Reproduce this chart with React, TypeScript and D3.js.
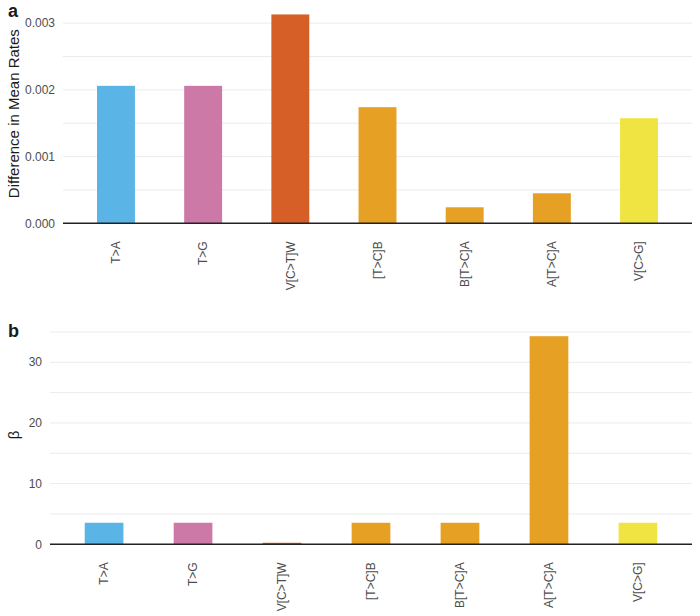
import React from "react";
import * as d3 from "d3";

const categories = ["T>A", "T>G", "V[C>T]W", "[T>C]B", "B[T>C]A", "A[T>C]A", "V[C>G]"];
const colors = ["#5AB4E6", "#CC79A7", "#D65F27", "#E6A024", "#E6A024", "#E6A024", "#F0E442"];
const diffRates = [0.00206, 0.00206, 0.00313, 0.00174, 0.00024, 0.00045, 0.001575];
const beta = [3.55, 3.55, 0.25, 3.55, 3.55, 34.3, 3.55];
const ticksA = [0, 0.001, 0.002, 0.003];
const minorA = [0.0005, 0.0015, 0.0025];
const ticksB = [0, 10, 20, 30];
const minorB = [5, 15, 25, 35];

const FONT = "'Liberation Sans', Arial, Helvetica, sans-serif";

type PanelProps = {
  label: string;
  title: string;
  values: number[];
  ticks: number[];
  minor: number[];
  fmt: (v: number) => string;
  left: number;
  right: number;
  top: number;
  bottom: number;
  labelY: number;
};

function Panel(p: PanelProps) {
  const max = d3.max(p.values) as number;
  const y = d3.scaleLinear().domain([0, max * 1.05]).range([p.bottom, p.top]);
  const x = d3.scaleBand<string>().domain(categories).range([p.left, p.right]).paddingInner(0.565).paddingOuter(0.39);
  const midY = (p.top + p.bottom) / 2;
  return (
    <g>
      <text x={8} y={p.labelY} fontFamily={FONT} fontWeight="bold" fontSize={18} fill="#1a1a1a">{p.label}</text>
      {[...p.minor, ...p.ticks].map((t, i) => (
        <line key={"g" + i} x1={p.left} x2={p.right} y1={y(t)} y2={y(t)} stroke="#ebebeb" strokeWidth={1} />
      ))}
      {p.values.map((v, i) => (
        <rect key={"b" + i} x={x(categories[i])} width={x.bandwidth()} y={y(v)} height={y(0) - y(v)} fill={colors[i]} />
      ))}
      <line x1={p.left} x2={p.right} y1={y(0)} y2={y(0)} stroke="#222" strokeWidth={1.5} />
      {p.ticks.map((t, i) => (
        <text key={"t" + i} x={p.left - 8} y={y(t)} dy="0.35em" textAnchor="end" fontFamily={FONT} fontSize={12} fill="#4d4d4d">{p.fmt(t)}</text>
      ))}
      {categories.map((c, i) => {
        const cx = (x(c) as number) + x.bandwidth() / 2;
        const ty = y(0) + 18;
        return (
          <text key={"x" + i} transform={`translate(${cx},${ty}) rotate(-90)`} dy="0.35em" textAnchor="end" fontFamily={FONT} fontSize={12} fill="#4d4d4d">{c}</text>
        );
      })}
      <text transform={`translate(19,${midY}) rotate(-90)`} textAnchor="middle" fontFamily={FONT} fontSize={15} fill="#1a1a1a">{p.title}</text>
    </g>
  );
}

export default function App() {
  return (
    <svg width={700} height={616} style={{ position: "absolute", left: 0, top: 0, background: "#fff" }}>
      <rect width={700} height={616} fill="#fff" />
      <Panel label="a" title="Difference in Mean Rates" values={diffRates} ticks={ticksA} minor={minorA}
        fmt={d3.format(".3f")} left={63} right={692} top={4} bottom={223.3} labelY={17} />
      <Panel label="b" title="β" values={beta} ticks={ticksB} minor={minorB}
        fmt={d3.format("d")} left={50} right={692} top={325.8} bottom={544.3} labelY={337} />
    </svg>
  );
}
